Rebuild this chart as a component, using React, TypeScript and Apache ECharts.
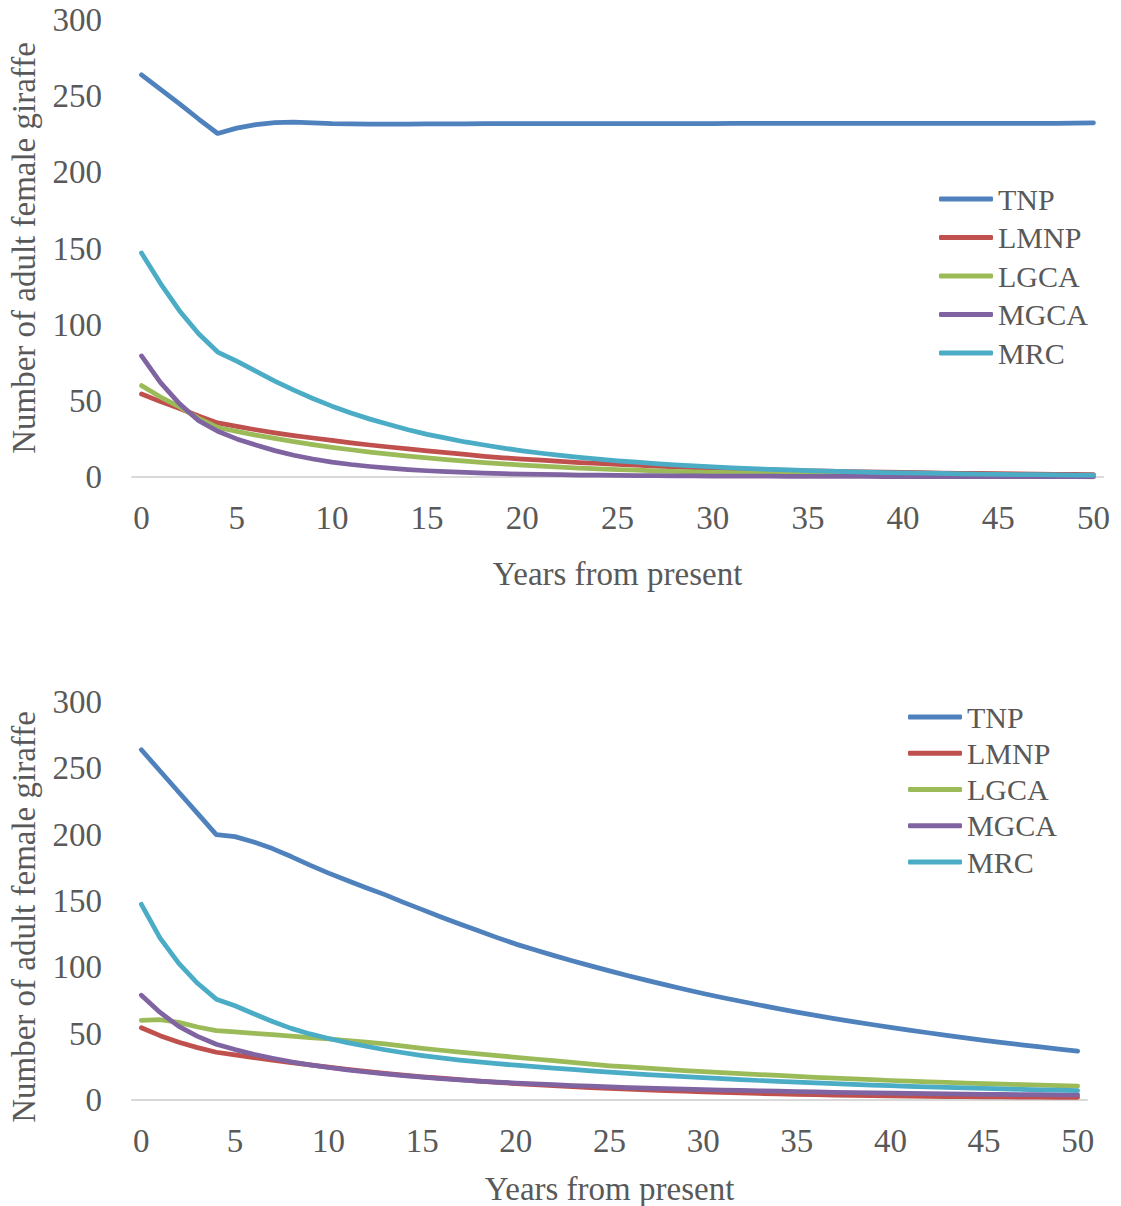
import React, { useEffect, useRef } from "react";
import * as echarts from "echarts";

const years: string[] = Array.from({ length: 51 }, (_, i) => String(i));
const seriesNames = ["TNP", "LMNP", "LGCA", "MGCA", "MRC"];
const colors = ["#4F81BD", "#C0504D", "#9BBB59", "#8064A2", "#4BACC6"];
const yTitle = "Number of adult female giraffe";
const xTitle = "Years from present";

// Top panel
const tnpA = [264, 254.5, 245, 235, 225.5, 229, 231.3, 232.6, 233, 232.5, 232, 231.8, 231.7, 231.7, 231.7, 231.8, 231.8, 231.8, 231.9, 231.9, 232, 232, 232, 232, 232, 232, 232, 232, 232, 232, 232, 232.1, 232.1, 232.1, 232.1, 232.1, 232.1, 232.1, 232.1, 232.1, 232.1, 232.2, 232.2, 232.2, 232.2, 232.2, 232.2, 232.2, 232.2, 232.3, 232.5];
const lmnpA = [54.5, 49.5, 45, 40, 35.5, 33.2, 31, 29, 27.2, 25.6, 24, 22.4, 21, 19.7, 18.4, 17.2, 16, 14.8, 13.6, 12.6, 11.8, 11, 10.2, 9.5, 8.9, 8.3, 7.8, 7.2, 6.7, 6.2, 5.8, 5.4, 5, 4.7, 4.4, 4.1, 3.8, 3.6, 3.4, 3.2, 3, 2.8, 2.6, 2.4, 2.3, 2.2, 2, 1.9, 1.8, 1.7, 1.6];
const lgcaA = [60, 52.5, 46, 38.5, 32.5, 30, 27.5, 25.3, 23.2, 21.3, 19.5, 17.9, 16.4, 15, 13.7, 12.5, 11.4, 10.4, 9.5, 8.6, 7.8, 7.1, 6.5, 5.9, 5.4, 4.9, 4.5, 4.1, 3.7, 3.4, 3.1, 2.8, 2.6, 2.4, 2.2, 2, 1.8, 1.7, 1.5, 1.4, 1.3, 1.2, 1.1, 1, 0.9, 0.85, 0.8, 0.75, 0.7, 0.65, 0.6];
const mgcaA = [79.5, 62, 48, 37, 30, 25, 21, 17.3, 14.3, 11.8, 9.8, 8.2, 6.9, 5.8, 4.9, 4.1, 3.5, 3, 2.6, 2.2, 1.9, 1.7, 1.5, 1.3, 1.2, 1.05, 0.95, 0.85, 0.78, 0.7, 0.64, 0.6, 0.55, 0.5, 0.46, 0.43, 0.4, 0.37, 0.34, 0.32, 0.3, 0.28, 0.26, 0.24, 0.22, 0.21, 0.2, 0.19, 0.18, 0.17, 0.16];
const mrcA = [147, 127, 109, 94, 82, 76, 69.5, 63, 57, 51.5, 46.5, 42, 38, 34.5, 31, 28, 25.5, 23, 21, 19, 17.2, 15.6, 14.2, 12.9, 11.7, 10.6, 9.7, 8.8, 8, 7.3, 6.6, 6, 5.5, 5, 4.6, 4.2, 3.8, 3.5, 3.2, 2.9, 2.7, 2.5, 2.3, 2.1, 1.9, 1.8, 1.6, 1.5, 1.4, 1.3, 1.2];

// Bottom panel
const tnpB = [264, 248, 232, 216, 200, 198.5, 194.5, 189.5, 183.5, 177, 171, 165.5, 160, 154.8, 149, 143.5, 138, 132.6, 127.5, 122.4, 117.5, 113.2, 109, 105, 101.1, 97.3, 93.7, 90.2, 86.8, 83.5, 80.3, 77.3, 74.4, 71.6, 68.9, 66.3, 63.8, 61.4, 59.1, 56.9, 54.8, 52.7, 50.7, 48.7, 46.8, 45, 43.3, 41.6, 40, 38.4, 36.8];
const lmnpB = [54.5, 48.5, 43.5, 39.5, 36, 34, 32, 30, 28.2, 26.4, 24.8, 23.1, 21.5, 20, 18.7, 17.5, 16.4, 15.3, 14.3, 13.3, 12.4, 11.6, 10.8, 10.1, 9.4, 8.8, 8.2, 7.6, 7.1, 6.6, 6.1, 5.7, 5.3, 4.9, 4.6, 4.3, 4, 3.7, 3.5, 3.3, 3.1, 2.9, 2.8, 2.6, 2.5, 2.4, 2.3, 2.2, 2.1, 2, 2];
const lgcaB = [60, 60.5, 58.5, 55, 52.3, 51.3, 50.3, 49.3, 48.2, 47.1, 46, 44.8, 43.6, 42.3, 40.6, 38.9, 37.5, 36.1, 34.8, 33.5, 32.2, 30.9, 29.6, 28.3, 27, 25.8, 24.9, 24, 23.1, 22.2, 21.3, 20.6, 19.9, 19.2, 18.5, 17.8, 17.1, 16.5, 15.9, 15.3, 14.7, 14.2, 13.7, 13.2, 12.8, 12.4, 12, 11.6, 11.2, 10.8, 10.5];
const mgcaB = [79, 66, 55.5, 48, 42, 38, 34.5, 31.5, 28.8, 26.5, 24.5, 22.7, 21.1, 19.7, 18.4, 17.2, 16.2, 15.2, 14.3, 13.5, 12.8, 12.1, 11.5, 10.9, 10.4, 9.9, 9.4, 9, 8.6, 8.2, 7.8, 7.5, 7.2, 6.9, 6.6, 6.3, 6.1, 5.8, 5.6, 5.4, 5.2, 5, 4.8, 4.6, 4.5, 4.3, 4.2, 4.1, 4, 3.9, 3.8];
const mrcB = [147.5, 122, 103, 88, 76, 71, 65, 59.2, 54, 49.8, 46.4, 43.3, 40.5, 37.9, 35.6, 33.5, 31.7, 30.1, 28.7, 27.4, 26.2, 25.1, 24, 23, 22, 21, 20.1, 19.2, 18.4, 17.6, 16.8, 16.1, 15.4, 14.7, 14.1, 13.5, 12.9, 12.3, 11.8, 11.3, 10.8, 10.3, 9.9, 9.5, 9.1, 8.7, 8.4, 8, 7.7, 7.4, 7.1];

const FONT = "'Liberation Serif', 'Times New Roman', serif";
const TXT = "#595959";

export default function App() {
  const ref = useRef<HTMLDivElement>(null);
  useEffect(() => {
    if (!ref.current) return;
    const chart = echarts.init(ref.current, undefined, { renderer: "svg" });
    const panels = [
      [tnpA, lmnpA, lgcaA, mgcaA, mrcA],
      [tnpB, lmnpB, lgcaB, mgcaB, mrcB],
    ];
    const grids = [
      { left: 132, top: 20, width: 971, height: 457 },
      { left: 132, top: 702, width: 955, height: 398 },
    ];
    const xAxes = grids.map((_, gi) => ({
      type: "category",
      gridIndex: gi,
      data: years,
      boundaryGap: true,
      axisLine: { show: true, lineStyle: { color: "#D9D9D9", width: 2 } },
      axisTick: { show: false },
      axisLabel: { interval: 4, margin: 24, color: TXT, fontFamily: FONT, fontSize: 33 },
      name: xTitle,
      nameLocation: "middle",
      nameGap: gi === 0 ? 80 : 72,
      nameTextStyle: { color: TXT, fontFamily: FONT, fontSize: 33 },
      splitLine: { show: false },
    }));
    const yAxes = grids.map((_, gi) => ({
      type: "value",
      gridIndex: gi,
      min: 0,
      max: 300,
      interval: 50,
      axisLine: { show: false },
      axisTick: { show: false },
      splitLine: { show: false },
      axisLabel: { margin: 30, color: TXT, fontFamily: FONT, fontSize: 33 },
    }));
    const series: any[] = [];
    panels.forEach((vals, gi) => {
      vals.forEach((v, si) => {
        series.push({
          type: "line",
          name: seriesNames[si],
          xAxisIndex: gi,
          yAxisIndex: gi,
          data: v,
          showSymbol: false,
          symbol: "none",
          smooth: false,
          color: colors[si],
          lineStyle: { width: 4.75, color: colors[si], cap: "round", join: "round" },
        });
      });
    });
    const legendBase = {
      orient: "vertical",
      icon: "roundRect",
      itemWidth: 54,
      itemHeight: 5,
      padding: 0,
      data: seriesNames,
      textStyle: { color: TXT, fontFamily: FONT, fontSize: 30, lineHeight: 30 },
      selectedMode: false,
    };
    chart.setOption({
      animation: false,
      backgroundColor: "#ffffff",
      grid: grids,
      xAxis: xAxes,
      yAxis: yAxes,
      legend: [
        { ...legendBase, left: 939, top: 184, itemGap: 8.5 },
        { ...legendBase, left: 908, top: 702, itemGap: 6.25 },
      ],
      graphic: [
        {
          type: "text",
          x: 24,
          y: 248,
          rotation: Math.PI / 2,
          style: { text: yTitle, fill: TXT, font: `33px ${FONT}`, textAlign: "center", textVerticalAlign: "middle" },
        },
        {
          type: "text",
          x: 24,
          y: 917,
          rotation: Math.PI / 2,
          style: { text: yTitle, fill: TXT, font: `33px ${FONT}`, textAlign: "center", textVerticalAlign: "middle" },
        },
      ],
      series,
    });
    return () => chart.dispose();
  }, []);
  return (
    <div
      ref={ref}
      style={{ position: "absolute", left: 0, top: 0, width: 1121, height: 1206, background: "#fff" }}
    />
  );
}
